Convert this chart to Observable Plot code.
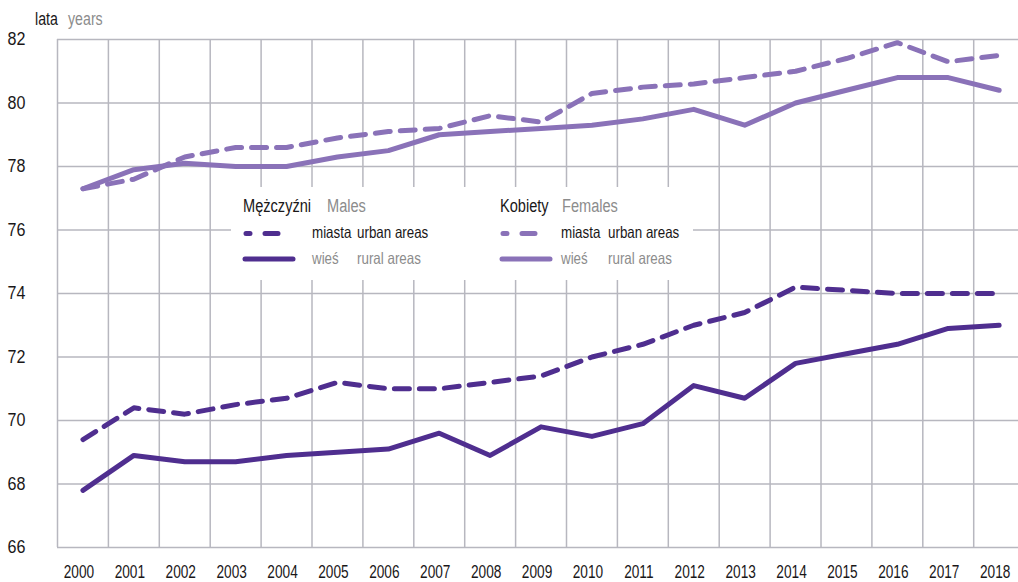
<!DOCTYPE html>
<html>
<head>
<meta charset="utf-8">
<script src="https://cdn.jsdelivr.net/npm/d3@7"></script>
<script src="https://cdn.jsdelivr.net/npm/@observablehq/plot@0.6"></script>
<style>
  html, body { margin: 0; padding: 0; background: #fff; }
  body { font-family: "Liberation Sans", Arial, sans-serif; }
  #wrap { position: relative; width: 1018px; height: 582px; overflow: hidden; }
  #wrap > svg { position: absolute; left: 0; top: 0; }
  #overlay { position: absolute; left: 0; top: 0; pointer-events: none; }
  #overlay text { font-family: "Liberation Sans", Arial, sans-serif; }
</style>
</head>
<body>
<div id="wrap"></div>
<script>
// ---- data ----
const years = [2000, 2001, 2002, 2003, 2004, 2005, 2006, 2007, 2008, 2009,
               2010, 2011, 2012, 2013, 2014, 2015, 2016, 2017, 2018];
const maleUrban   = [69.4, 70.4, 70.2, 70.5, 70.7, 71.2, 71.0, 71.0, 71.2, 71.4,
                     72.0, 72.4, 73.0, 73.4, 74.2, 74.1, 74.0, 74.0, 74.0];
const maleRural   = [67.8, 68.9, 68.7, 68.7, 68.9, 69.0, 69.1, 69.6, 68.9, 69.8,
                     69.5, 69.9, 71.1, 70.7, 71.8, 72.1, 72.4, 72.9, 73.0];
const femaleUrban = [77.3, 77.6, 78.3, 78.6, 78.6, 78.9, 79.1, 79.2, 79.6, 79.4,
                     80.3, 80.5, 80.6, 80.8, 81.0, 81.4, 81.9, 81.3, 81.5];
const femaleRural = [77.3, 77.9, 78.1, 78.0, 78.0, 78.3, 78.5, 79.0, 79.1, 79.2,
                     79.3, 79.5, 79.8, 79.3, 80.0, 80.4, 80.8, 80.8, 80.4];
const yTicks = [66, 68, 70, 72, 74, 76, 78, 80, 82];

const maleColor = "#4f2e8f";
const femaleColor = "#8a72b8";
const gridColor = "#b7b7bf";
const FONT = '"Liberation Sans", Arial, sans-serif';

const toRows = (vals) => years.map((yr, i) => ({year: yr, value: vals[i]}));

const chart = Plot.plot({
  width: 1018,
  height: 582,
  marginLeft: 57,
  marginRight: 0,
  marginTop: 39,
  marginBottom: 35,
  style: {fontFamily: FONT, color: "#231f20", background: "transparent", overflow: "visible"},
  x: {type: "linear", domain: [years[0] - 0.5, years[years.length - 1] + 0.38]},
  y: {domain: [66, 82]},
  marks: [
    Plot.ruleY(yTicks, {stroke: gridColor, strokeWidth: 1.5}),
    Plot.ruleX(years.map(y => y - 0.5), {stroke: gridColor, strokeWidth: 1.5}),
    Plot.axisX({ticks: years, tickSize: 0, tickPadding: 18, dx: -4, fontSize: 17.5,
                tickFormat: d => String(d), label: null, fill: "#1a1718"}),
    Plot.axisY({ticks: yTicks, tickSize: 0, tickPadding: 32, fontSize: 17.5,
                label: null, fill: "#1a1718"}),
    Plot.lineY(toRows(femaleRural), {x: "year", y: "value", stroke: femaleColor, strokeWidth: 5,
                strokeLinejoin: "round", strokeLinecap: "round"}),
    Plot.lineY(toRows(femaleUrban), {x: "year", y: "value", stroke: femaleColor, strokeWidth: 5,
                strokeDasharray: "15,10", strokeLinejoin: "round", strokeLinecap: "round"}),
    Plot.lineY(toRows(maleRural), {x: "year", y: "value", stroke: maleColor, strokeWidth: 5,
                strokeLinejoin: "round", strokeLinecap: "round"}),
    Plot.lineY(toRows(maleUrban), {x: "year", y: "value", stroke: maleColor, strokeWidth: 5,
                strokeDasharray: "15,10", strokeLinejoin: "round", strokeLinecap: "round"})
  ]
});
document.getElementById("wrap").appendChild(chart);

// condense text horizontally (the reference uses a condensed typeface)
function condense(nodes, f) {
  nodes.forEach(t => {
    const L = t.getComputedTextLength();
    if (L > 0) {
      t.setAttribute("textLength", (L * f).toFixed(1));
      t.setAttribute("lengthAdjust", "spacingAndGlyphs");
    }
  });
}
condense(chart.querySelectorAll('g[aria-label="x-axis tick label"] text'), 0.78);
condense(chart.querySelectorAll('g[aria-label="y-axis tick label"] text'), 0.92);

// ---- title and legend overlay ----
const NS = "http://www.w3.org/2000/svg";
const ov = document.createElementNS(NS, "svg");
ov.setAttribute("id", "overlay");
ov.setAttribute("width", 1018);
ov.setAttribute("height", 582);
document.getElementById("wrap").appendChild(ov);
function el(tag, attrs, text, parent) {
  const e = document.createElementNS(NS, tag);
  for (const k in attrs) e.setAttribute(k, attrs[k]);
  if (text != null) e.textContent = text;
  (parent || ov).appendChild(e);
  return e;
}
const dark = "#1a1718", grey = "#8c8c8c";
const texts = [];
// unit label
const unit = el("text", {x: 35, y: 25, "font-size": 17.5});
texts.push(el("tspan", {x: 35, fill: dark}, "lata", unit));
texts.push(el("tspan", {x: 68, fill: grey}, "years", unit));
// legend box
el("rect", {x: 231, y: 187, width: 462, height: 93, fill: "#fff"});
const groups = [
  {x0: 243, tx: 312, tx2: 357, head: "Mężczyźni", headEn: "Males", headEnX: 327, color: maleColor},
  {x0: 500, tx: 561, tx2: 608, head: "Kobiety", headEn: "Females", headEnX: 562, color: femaleColor}
];
for (const g of groups) {
  const h = el("text", {x: g.x0, y: 212, "font-size": 18});
  texts.push(el("tspan", {x: g.x0, fill: dark}, g.head, h));
  texts.push(el("tspan", {x: g.headEnX, fill: grey}, g.headEn, h));
  el("line", {x1: g.x0 + 3, x2: g.x0 + 50, y1: 233.5, y2: 233.5, stroke: g.color, "stroke-width": 5,
              "stroke-linecap": "round", "stroke-dasharray": "4,15,13,15,4"});
  el("line", {x1: g.x0 + 2, x2: g.x0 + 50, y1: 259, y2: 259, stroke: g.color, "stroke-width": 5,
              "stroke-linecap": "round"});
  const t1 = el("text", {x: g.tx, y: 238, "font-size": 16.5, fill: dark});
  texts.push(el("tspan", {x: g.tx}, "miasta", t1));
  texts.push(el("tspan", {x: g.tx2}, "urban areas", t1));
  const t2 = el("text", {x: g.tx, y: 264, "font-size": 16.5, fill: grey});
  texts.push(el("tspan", {x: g.tx}, "wieś", t2));
  texts.push(el("tspan", {x: g.tx2}, "rural areas", t2));
}
condense(texts, 0.81);
</script>
</body>
</html>
